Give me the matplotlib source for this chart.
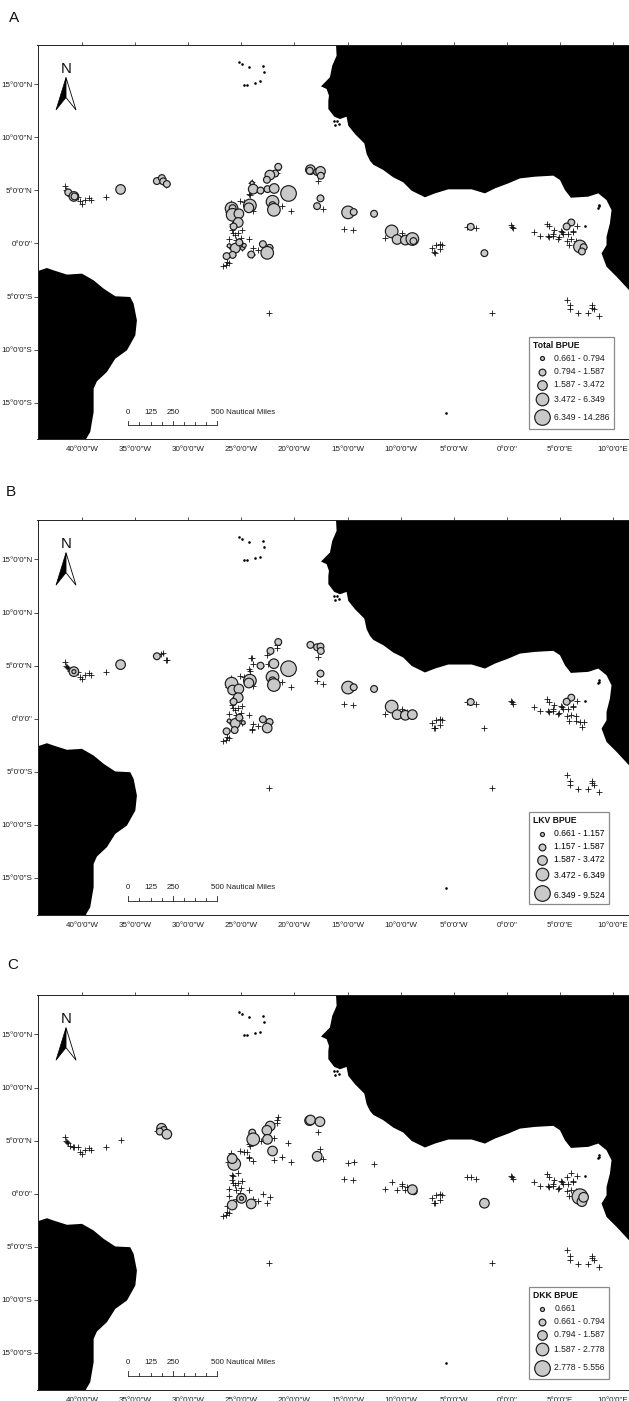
import matplotlib
matplotlib.use('Agg')
import matplotlib.pyplot as plt

plt.rcParams['font.family'] = ['Liberation Sans', 'DejaVu Sans']

# ---------------------------------------------------------
# 1. Data (degrees)
# ---------------------------------------------------------
# every fishing set, drawn as a + in all three panels
station_lon = [
    -41.6, -41.54, -41.48, -41.39, -41.17, -40.91, -40.79, -40.41, -40.19, -40.0, -39.78, -39.34, -39.16, -37.74,
    -36.39, -32.97, -32.56, -32.37, -32.06, -32.12,
    -21.53, -21.63, -21.69, -22.29, -22.6, -24.0, -24.14, -23.89, -23.2, -22.54, -21.94, -20.59, -24.27, -24.2,
    -25.18, -24.74, -24.49, -24.27, -24.33, -23.89, -22.07, -21.22, -21.97, -20.37, -25.99, -26.31, -25.93, -25.77,
    -25.37, -25.87, -25.77, -25.62, -25.3, -24.99, -25.05, -26.18, -25.52, -24.33, -25.15, -26.15, -25.55, -24.99,
    -23.0, -22.35, -22.57, -23.95, -23.48, -24.05, -23.98, -26.4, -25.84, -26.4, -26.15, -26.5, -26.75, -22.39,
    -17.78, -17.55, -17.87, -17.3, -14.95, -14.42, -12.5, -15.29, -14.48, -10.84, -11.5, -10.33, -9.89, -9.89,
    -9.55, -9.39, -7.07, -6.66, -6.25, -6.09, -6.25, -6.82, -6.73, -3.74, -3.39, -2.86, 0.41, 0.5, 0.59, 2.57,
    3.14, 3.83, 3.95, 3.92, 3.99, 4.46, 4.39, 4.33, 4.83, 4.96, 5.15, 5.18, 5.3, 5.81, 6.21, 6.28, 6.59, 6.09,
    5.65, 5.71, 6.09, 5.9, 6.56, 6.5, 6.9, 7.25, 7.09, 5.71, 5.96, 5.96, 6.72, 7.66, 8.0, 8.07, 8.22, 8.7, -1.35,
    -2.1,
]
station_lat = [
    5.37, 5.0, 4.9, 4.81, 4.5, 4.43, 4.43, 4.37, 3.96, 3.71, 4.12, 4.31, 4.09, 4.37,
    5.09, 5.88, 6.13, 6.19, 5.56, 5.53,
    7.22, 6.94, 6.63, 6.37, 5.97, 5.75, 5.69, 5.12, 4.99, 5.12, 5.2, 4.74, 4.65, 4.52,
    4.02, 3.9, 3.9, 3.49, 3.33, 3.05, 3.96, 3.49, 3.17, 3.02, 3.8, 2.95, 1.79, 1.67,
    1.98, 1.29, 0.98, 0.82, 0.98, 1.23, 0.53, 0.44, 0.35, 0.38, 0.1, -0.22, -0.53, -0.44,
    -0.06, -0.31, -0.85, -0.47, -0.66, -0.97, -1.1, -1.16, -1.07, -1.7, -1.85, -2.01, -2.13, -6.52,
    5.85, 4.25, 3.52, 3.24, 2.93, 2.96, 2.8, 1.39, 1.26, 1.14, 0.48, 0.38, 0.95, 0.73,
    0.32, 0.6, -0.4, -0.17, -0.03, -0.17, -0.56, -0.84, -0.9, 1.54, 1.57, 1.42, 1.7, 1.57, 1.42, 1.1,
    0.69, 1.82, 1.6, 0.75, 0.6, 1.29, 0.88, 0.75, 0.44, 0.57, 1.19, 1.07, 0.88, 0.91, 1.07, 1.17, 1.67, 1.98,
    1.61, 0.28, 0.38, -0.18, 0.28, -0.2, -0.31, -0.34, -0.75, -5.3, -5.83, -6.21, -6.59, -6.59, -5.83, -6.09, -6.21, -6.87, -6.52,
    -0.9,
]

# panel A, total BPUE (class = legend row, 0 smallest)
total_lon = [-41.32, -40.79, -40.73, -36.39, -32.97, -32.5, -32.37, -32.03,
             -21.53, -21.82, -22.32, -22.6, -24.0, -23.89, -23.2, -22.54, -21.91, -20.56, -24.2, -24.3, -22.07, -22.07,
             -21.94, -25.93, -25.83, -25.83, -25.24, -25.3, -25.74, -26.15, -25.58, -25.2, -25.83, -26.4, -22.98,
             -22.35, -22.57, -24.08, -24.9, -24.74,
             -18.5, -18.56, -17.87, -17.55, -17.52, -17.55, -17.87, -14.95, -14.42, -12.5, -10.84, -10.33, -9.55,
             -8.89, -8.79, -3.39, -2.1, 6.09, 5.65, 6.9, 7.25, 7.09]
total_lat = [4.81, 4.43, 4.43, 5.09, 5.88, 6.16, 5.85, 5.6,
             7.22, 6.59, 6.44, 6.0, 5.68, 5.12, 4.99, 5.12, 5.18, 4.71, 3.58, 3.36, 3.93, 3.61,
             3.17, 3.3, 3.33, 2.7, 2.8, 1.98, 1.6, -0.22, -0.44, 0.1, -1.07, -1.19, -0.06,
             -0.41, -0.88, -1.04, -0.44, -0.19,
             6.95, 6.85, 6.73, 6.79, 6.38, 4.25, 3.52, 2.93, 2.96, 2.8, 1.14, 0.38, 0.32,
             0.42, 0.23, 1.57, -0.91, 1.98, 1.6, -0.28, -0.35, -0.75]
total_class = [1, 2, 1, 2, 1, 1, 1, 1,
               1, 1, 2, 1, 0, 2, 1, 1, 2, 4, 3, 2, 3, 1,
               3, 3, 1, 3, 2, 2, 1, 0, 2, 1, 1, 1, 1,
               1, 3, 1, 0, 0,
               2, 1, 1, 2, 1, 1, 1, 3, 1, 1, 3, 2, 2,
               3, 1, 1, 1, 1, 1, 3, 1, 1]

# panel B, LKV BPUE
lkv_lon = [-40.79, -40.79, -36.39, -32.97,
           -21.53, -22.26, -23.2, -21.94, -20.56, -24.2, -24.3, -22.07, -22.07, -21.94, -25.93, -25.83, -25.24,
           -25.3, -25.74, -26.15, -25.58, -25.2, -24.83, -25.64, -26.4, -22.98, -22.35, -22.57,
           -18.5, -17.87, -17.55, -17.52, -17.55, -14.95, -14.42, -12.5, -10.84, -10.33, -9.55, -8.89, -3.39, 6.09, 5.65]
lkv_lat = [4.43, 4.43, 5.09, 5.88,
           7.22, 6.38, 4.99, 5.18, 4.71, 3.58, 3.36, 3.93, 3.61, 3.17, 3.3, 2.7, 2.8,
           1.98, 1.6, -0.22, -0.44, 0.1, -0.38, -1.07, -1.19, -0.06, -0.31, -0.88,
           6.95, 6.73, 6.79, 6.38, 4.25, 2.93, 2.96, 2.8, 1.14, 0.38, 0.32, 0.38, 1.57, 1.98, 1.6]
lkv_class = [2, 0, 2, 1,
             1, 1, 1, 2, 4, 3, 2, 3, 1, 3, 3, 2, 2,
             2, 1, 0, 2, 1, 0, 1, 1, 1, 1, 2,
             1, 1, 1, 1, 1, 3, 1, 1, 3, 2, 2, 2, 1, 1, 1]

# panel C, DKK BPUE
dkk_lon = [-32.53, -32.31, -32.69, -32.03,
           -22.29, -22.6, -23.98, -23.89, -22.54, -22.07, -25.68, -25.87, -24.99, -24.99, -25.87, -24.08,
           -18.58, -18.49, -17.6, -17.86, -8.76, -8.89, -2.1, 6.9, 7.09, 7.25]
dkk_lat = [6.16, 6.0, 5.85, 5.6,
           6.37, 5.97, 5.75, 5.12, 5.12, 4.02, 2.8, 3.3, -0.44, -0.44, -1.07, -0.96,
           6.88, 6.94, 6.78, 3.52, 0.23, 0.38, -0.9, -0.28, -0.75, -0.34]
dkk_class = [2, 1, 1, 2,
             2, 2, 1, 3, 2, 2, 3, 2, 2, 0, 2, 2,
             2, 2, 2, 2, 1, 2, 2, 4, 2, 2]

# coastlines
brazil_lon = [-44.6, -44.18, -43.33, -42.7, -41.44, -40.03, -38.93, -37.99, -36.89, -35.48, -35.16, -34.85, -35.0,
              -35.79, -36.89, -37.68, -38.62, -38.93, -38.93, -39.25, -39.62, -39.8, -44.6]
brazil_lat = [-2.7, -2.59, -2.31, -2.53, -2.93, -2.84, -3.47, -4.25, -4.97, -5.04, -5.67, -7.24, -8.65,
              -10.06, -10.85, -12.1, -12.98, -13.67, -15.87, -17.75, -18.38, -19.0, -19.0]
africa_lon = [-16.09, -16.03, -16.44, -16.66, -17.5, -16.97, -16.75, -16.81, -16.81, -16.25, -15.71, -15.09, -14.93,
              -14.3, -13.42, -13.2, -12.89, -12.57, -11.63, -10.69, -9.75, -8.96, -7.7, -6.76, -5.5, -3.3, -2.05,
              -1.11, 0.15, 1.25, 2.66, 4.39, 5.02, 5.49, 6.05, 7.69, 8.63, 9.41, 9.88, 9.73, 9.41, 9.41, 8.94, 9.41,
              10.36, 11.52, 12.0, 12.0, -16.09]
africa_lat = [18.8, 17.69, 16.75, 15.65, 14.8, 14.55, 13.92, 13.45, 12.67, 11.94, 11.72, 11.94, 11.1,
              10.31, 9.43, 8.43, 7.8, 7.42, 6.92, 6.23, 5.76, 4.97, 4.35, 4.72, 5.1, 5.1, 4.72,
              5.19, 5.66, 6.13, 6.29, 6.39, 5.98, 5.03, 4.31, 4.41, 4.72, 4.09, 3.15, 1.9, 0.64, -0.15, -0.93, -2.19,
              -3.13, -4.38, -4.9, 19.2, 19.2]
island_lon = [-25.2, -24.99, -24.27, -22.95, -22.86, -24.74, -24.43, -23.68, -23.24,
              -16.3, -15.98, -15.8, -16.17, 8.66, 8.6, 8.72, -5.75, 7.35]
island_lat = [17.12, 16.93, 16.62, 16.74, 16.15, 14.95, 14.95, 15.14, 15.27,
              11.53, 11.56, 11.28, 11.15, 3.49, 3.36, 3.62, -15.94, 1.64]

lon_ticks = [-40, -35, -30, -25, -20, -15, -10, -5, 0, 5, 10]
lon_labels = ['40°0\'0"W', '35°0\'0"W', '30°0\'0"W', '25°0\'0"W', '20°0\'0"W', '15°0\'0"W', '10°0\'0"W', '5°0\'0"W',
              '0°0\'0"', '5°0\'0"E', '10°0\'0"E']
lat_ticks = [15, 10, 5, 0, -5, -10, -15]
lat_labels = ['15°0\'0"N', '10°0\'0"N', '5°0\'0"N', '0°0\'0"', '5°0\'0"S', '10°0\'0"S', '15°0\'0"S']

legend_titles = ['Total BPUE', 'LKV BPUE', 'DKK BPUE']
legend_total = ['0.661 - 0.794', '0.794 - 1.587', '1.587 - 3.472', '3.472 - 6.349', '6.349 - 14.286']
legend_lkv = ['0.661 - 1.157', '1.157 - 1.587', '1.587 - 3.472', '3.472 - 6.349', '6.349 - 9.524']
legend_dkk = ['0.661', '0.661 - 0.794', '0.794 - 1.587', '1.587 - 2.778', '2.778 - 5.556']
scale_labels = ['0', '125', '250']

# ---------------------------------------------------------
# 2. Layout in image pixels
# ---------------------------------------------------------
W, H = 629, 1401
panel_tops = [44.5, 519.7, 994.7]
panel_h = 395
left, right = 37.5, 628.5
class_radius = [2.0, 3.4, 4.8, 6.3, 7.8]
fill = '#c9c9c9'
edge = '#1c1c1c'
text_col = '#1e1e1e'


def circle_size(r):
    return (2 * r * 72 / 100) ** 2


fig = plt.figure(figsize=(W / 100, H / 100), dpi=100)

panels = [
    (total_lon, total_lat, total_class, legend_total, 'A', 614.3, (9, 18)),
    (lkv_lon, lkv_lat, lkv_class, legend_lkv, 'B', 609.3, (6, 491.7)),
    (dkk_lon, dkk_lat, dkk_class, legend_dkk, 'C', 609.3, (7, 965.3)),
]

# overlay in pixels for the map furniture
over = fig.add_axes([0, 0, 1, 1], zorder=5)
over.set_xlim(0, W)
over.set_ylim(H, 0)
over.axis('off')

for i, (lon, lat, cls, leg_labels, letter, leg_right, letter_xy) in enumerate(panels):
    top = panel_tops[i]
    ax = fig.add_axes([left / W, 1 - (top + panel_h) / H, (right - left) / W, panel_h / H])
    ax.set_xlim(-44.22, 11.48)
    ax.set_ylim(-18.46, 18.74)

    ax.fill(brazil_lon, brazil_lat, color='black', lw=0, zorder=1)
    ax.fill(africa_lon, africa_lat, color='black', lw=0, zorder=1)
    ax.scatter(island_lon, island_lat, s=3.5, color='black', lw=0, zorder=1)
    ax.scatter(station_lon, station_lat, marker='+', s=13, color='#111111', linewidths=0.6, zorder=2)
    ax.scatter(lon, lat, s=[circle_size(class_radius[c]) for c in cls], facecolor=fill, edgecolor=edge,
               linewidths=0.85, zorder=3)

    ax.set_xticks(lon_ticks)
    ax.set_xticklabels(lon_labels, fontsize=5.8, color=text_col)
    ax.set_yticks(lat_ticks)
    ax.set_yticklabels(lat_labels, fontsize=5.8, color=text_col)
    ax.tick_params(axis='x', top=True, bottom=False, length=2.4, width=0.6, pad=2.5, color='#333333')
    ax.tick_params(axis='y', left=True, length=3, width=0.6, pad=0.5, color='#333333')
    for s in ax.spines.values():
        s.set_linewidth(0.7)
        s.set_color('#222222')

    # panel letter
    over.text(letter_xy[0], letter_xy[1], letter, fontsize=11, ha='left', va='center', color='#111111')

    # north arrow
    over.text(66, top + 24.5, 'N', fontsize=10.7, ha='center', va='center', color='#111111')
    over.fill([66, 56, 66], [top + 33, top + 65.5, top + 53], color='black', lw=0.5)
    over.fill([66, 76, 66], [top + 33, top + 65.5, top + 53], facecolor='white', edgecolor='black', lw=0.6)

    # scale bar
    y0 = top + 380.8
    over.plot([128.3, 217.3], [y0, y0], color='#222222', lw=0.6)
    for k in range(9):
        x = 128.3 + k * 11.125
        tall = k in (0, 4, 8)
        over.plot([x, x], [y0, y0 - (4.6 if tall else 3.0)], color='#222222', lw=0.6)
    for x, t in zip([128.3, 150.7, 172.7], scale_labels):
        over.text(x, top + 368.2, t, fontsize=5.7, ha='center', va='center', color=text_col)
    over.text(210.7, top + 368.2, '500 Nautical Miles', fontsize=5.7, ha='left', va='center', color=text_col)

    # legend box
    box_top = top + 292.5
    over.fill([528.7, leg_right, leg_right, 528.7], [box_top, box_top, box_top + 92, box_top + 92],
              facecolor='white', edgecolor='#8a8a8a', lw=0.9, zorder=6)
    over.text(532.7, top + 300.8, legend_titles[i], fontsize=6.2, fontweight='bold', ha='left', va='center',
              color='#111111', zorder=7)
    sym_y = [313.8, 327.2, 340.2, 354.5, 372.8]
    lab_y = sym_y if i != 1 else [313.8, 327.2, 340.2, 355.8, 376.0]
    for k in range(5):
        over.scatter([542], [top + sym_y[k]], s=circle_size(class_radius[k]), facecolor=fill, edgecolor=edge,
                     linewidths=0.85, zorder=7)
        over.text(554.3, top + lab_y[k], leg_labels[k], fontsize=6.25, ha='left', va='center',
                  color='black' if i == 1 else text_col, zorder=7)

fig.savefig('out.png', dpi=100)
